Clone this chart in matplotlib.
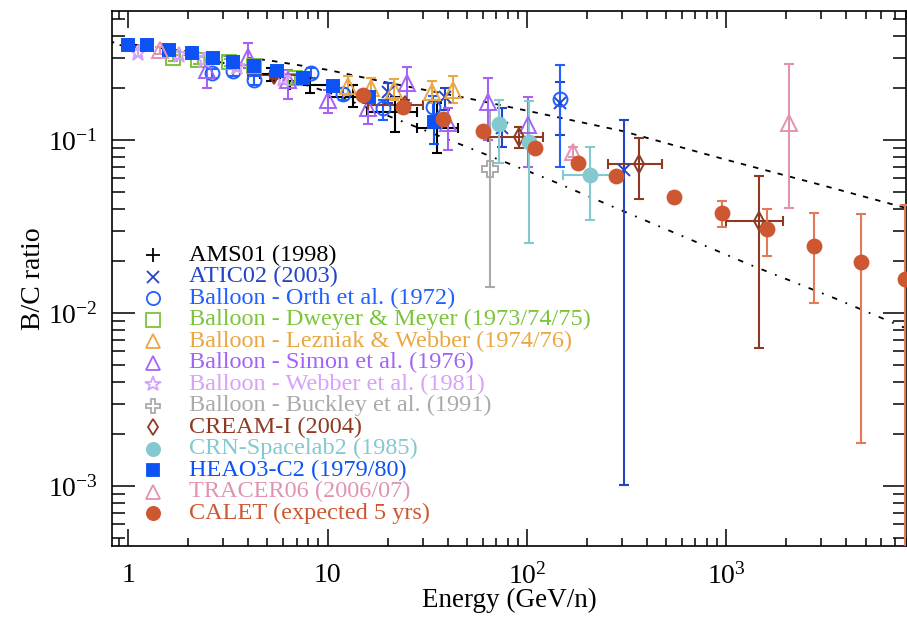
import numpy as np
import matplotlib
matplotlib.use('Agg')
import matplotlib.pyplot as plt
from matplotlib.ticker import NullFormatter, LogLocator

plt.rcParams['font.family'] = ['Liberation Serif', 'DejaVu Serif']
plt.rcParams['mathtext.fontset'] = 'custom'
plt.rcParams['mathtext.rm'] = 'Liberation Serif'
plt.rcParams['mathtext.it'] = 'Liberation Serif:italic'

# --- model curves (propagation predictions) ---
model_hi_E = [0.8, 1, 2, 5, 10, 20, 50, 100, 300, 1000, 3000, 9000]
model_hi_bc = [0.37, 0.36, 0.325, 0.29, 0.255, 0.215, 0.175, 0.148, 0.113, 0.077, 0.055, 0.039]
model_lo_E = [0.8, 1, 2, 5, 10, 23, 41, 130, 302, 1320, 3430, 9000]
model_lo_bc = [0.36, 0.35, 0.31, 0.245, 0.19, 0.13, 0.10, 0.059, 0.039, 0.019, 0.0123, 0.0077]

# --- measurements: energy, value, lower/upper bound, energy bin ---
ams_E = [5.2, 8.2, 13.4, 21.9, 35.6]
ams_bc = [0.24, 0.208, 0.177, 0.145, 0.118]
ams_lo = [0.22, 0.187, 0.155, 0.112, 0.084]
ams_hi = [0.26, 0.228, 0.208, 0.177, 0.163]
ams_Elo = [4.6, 6.5, 10, 15.8, 28]
ams_Ehi = [5.8, 10, 15, 28, 45]

atic_E = [20, 39, 75, 147, 308]
atic_bc = [0.19, 0.177, 0.118, 0.164, 0.067]
atic_lo = [0.165, 0.15, 0.091, 0.107, 0.00101]
atic_hi = [0.215, 0.2, 0.153, 0.216, 0.13]

orth_E = [2.62, 3.35, 4.27, 8.3, 12.0, 18.9, 34, 147]
orth_bc = [0.244, 0.25, 0.222, 0.244, 0.184, 0.153, 0.155, 0.173]
orth_lo = [0.23, 0.235, 0.208, 0.228, 0.17, 0.131, 0.125, 0.0698]
orth_hi = [0.258, 0.265, 0.236, 0.26, 0.2, 0.17, 0.18, 0.272]

dwy_E = [1.67, 2.23, 3.19, 4.26, 6.9]
dwy_bc = [0.298, 0.29, 0.282, 0.268, 0.228]
dwy_lo = [0.285, 0.277, 0.269, 0.255, 0.215]
dwy_hi = [0.311, 0.303, 0.295, 0.281, 0.241]

lez_E = [12.6, 16.6, 21.5, 33.6, 42.5]
lez_bc = [0.205, 0.2, 0.196, 0.189, 0.195]
lez_lo = [0.18, 0.175, 0.17, 0.165, 0.165]
lez_hi = [0.235, 0.23, 0.225, 0.22, 0.235]

sim_E = [2.5, 3.97, 6.3, 10, 16, 25, 40, 64, 101]
sim_bc = [0.254, 0.302, 0.223, 0.17, 0.153, 0.213, 0.125, 0.166, 0.122]
sim_lo = [0.2, 0.26, 0.172, 0.143, 0.124, 0.165, 0.088, 0.1, 0.07]
sim_hi = [0.302, 0.364, 0.254, 0.195, 0.187, 0.264, 0.153, 0.23, 0.177]

web_E = [1.12, 1.8, 2.4, 3.5, 6.0]
web_bc = [0.32, 0.31, 0.29, 0.265, 0.225]
web_lo = [0.305, 0.295, 0.275, 0.25, 0.21]
web_hi = [0.335, 0.325, 0.305, 0.28, 0.24]

buck_E = [65.5]
buck_bc = [0.068]
buck_lo = [0.0141]
buck_hi = [0.15]

cream_E = [5.4, 24.6, 91.7, 366, 1463]
cream_bc = [0.238, 0.16, 0.104, 0.0726, 0.034]
cream_lo = [0.225, 0.15, 0.09, 0.0456, 0.00628]
cream_hi = [0.25, 0.17, 0.119, 0.103, 0.0619]
cream_Elo = [4.0, 16, 64, 254, 1000]
cream_Ehi = [7.3, 30, 120, 477, 1930]

crn_E = [72.6, 102, 208]
crn_bc = [0.124, 0.097, 0.063]
crn_lo = [0.074, 0.0254, 0.0345]
crn_hi = [0.17, 0.168, 0.091]
crn_Elo = [72.6, 102, 152]
crn_Ehi = [72.6, 102, 285]

heao_E = [1.0, 1.25, 1.6, 2.08, 2.65, 3.35, 4.26, 5.55, 7.5, 10.6, 16.2, 34.4]
heao_bc = [0.354, 0.354, 0.331, 0.319, 0.298, 0.282, 0.268, 0.251, 0.228, 0.205, 0.177, 0.127]
heao_lo = [0.345, 0.345, 0.322, 0.31, 0.289, 0.273, 0.259, 0.242, 0.219, 0.196, 0.167, 0.095]
heao_hi = [0.363, 0.363, 0.34, 0.328, 0.307, 0.291, 0.277, 0.26, 0.237, 0.214, 0.187, 0.17]

tracer_E = [1.45, 171, 2070]
tracer_bc = [0.33, 0.0852, 0.125]
tracer_lo = [0.315, 0.08, 0.0405]
tracer_hi = [0.345, 0.091, 0.275]

calet_E = [15, 24, 38.1, 60.5, 110, 181, 281, 548, 955, 1606, 2763, 4753, 7894]
calet_bc = [0.182, 0.155, 0.132, 0.113, 0.090, 0.0736, 0.062, 0.0469, 0.0379, 0.0306, 0.0244, 0.0197, 0.0157]
calet_lo = [0.179, 0.152, 0.129, 0.11, 0.087, 0.071, 0.059, 0.044, 0.0316, 0.0213, 0.0114, 0.00177, 0.0001]
calet_hi = [0.185, 0.158, 0.135, 0.116, 0.093, 0.076, 0.065, 0.05, 0.0446, 0.0399, 0.0379, 0.0374, 0.042]

xtick_vals = [1, 10, 100, 1000]
xtick_labels = ['1', '10', r'$10^{2}$', r'$10^{3}$']
ytick_vals = [1e-3, 1e-2, 1e-1]
ytick_labels = [r'$10^{-3}$', r'$10^{-2}$', r'$10^{-1}$']


def yerr(v, lo, hi):
    v = np.asarray(v)
    return [v - np.asarray(lo), np.asarray(hi) - v]


fig = plt.figure(figsize=(9.07, 6.18), dpi=100)
ax = fig.add_axes([0.1235, 0.1165, 0.8757, 0.8655])
ax.set_xscale('log')
ax.set_yscale('log')

ax.plot(model_hi_E, model_hi_bc, color='black', lw=1.3, ls=(0, (3, 4)), zorder=1)
ax.plot(model_lo_E, model_lo_bc, color='black', lw=1.3, ls=(0, (1, 5, 3, 5)), zorder=1)

# (label, E, bc, lo, hi, xerr-bounds, color, marker, size, filled)
series = [
    ('AMS01 (1998)', ams_E, ams_bc, ams_lo, ams_hi, (ams_Elo, ams_Ehi), 'black', '+', 11, True),
    ('ATIC02 (2003)', atic_E, atic_bc, atic_lo, atic_hi, None, '#2444c8', 'x', 9, True),
    ('Balloon - Orth et al. (1972)', orth_E, orth_bc, orth_lo, orth_hi, None, '#2060ff', 'o', 10, False),
    ('Balloon - Dweyer & Meyer (1973/74/75)', dwy_E, dwy_bc, dwy_lo, dwy_hi, None, '#7cc43c', 's', 10, False),
    ('Balloon - Lezniak & Webber (1974/76)', lez_E, lez_bc, lez_lo, lez_hi, None, '#eaa744', '^', 11, False),
    ('Balloon - Simon et al. (1976)', sim_E, sim_bc, sim_lo, sim_hi, None, '#a463f6', '^', 11, False),
    ('Balloon - Webber et al. (1981)', web_E, web_bc, web_lo, web_hi, None, '#d6a2fa', '*', 12, False),
    ('Balloon - Buckley et al. (1991)', buck_E, buck_bc, buck_lo, buck_hi, None, '#aaaaaa', 'P', 11, False),
    ('CREAM-I (2004)', cream_E, cream_bc, cream_lo, cream_hi, (cream_Elo, cream_Ehi), '#8e3a22', 'd', 9, False),
    ('CRN-Spacelab2 (1985)', crn_E, crn_bc, crn_lo, crn_hi, (crn_Elo, crn_Ehi), '#84c8d0', 'o', 10, True),
    ('HEAO3-C2 (1979/80)', heao_E, heao_bc, heao_lo, heao_hi, None, '#0c52f4', 's', 8.5, True),
    ('TRACER06 (2006/07)', tracer_E, tracer_bc, tracer_lo, tracer_hi, None, '#e293b2', '^', 11, False),
    ('CALET (expected 5 yrs)', calet_E, calet_bc, calet_lo, calet_hi, None, '#cd5731', 'o', 10, True),
]

for i, (label, E, bc, lo, hi, xb, col, mk, ms, filled) in enumerate(series):
    xerr = None
    if xb is not None:
        Ea = np.asarray(E)
        xerr = [Ea - np.asarray(xb[0]), np.asarray(xb[1]) - Ea]
    ecol = '#e27a5a' if label.startswith('CALET') else col
    ax.errorbar(E, bc, yerr=yerr(bc, lo, hi), xerr=xerr, fmt='none', ecolor=ecol,
                elinewidth=1.5, capsize=3.5, capthick=1.5, zorder=2 + i * 0.1)
    ax.plot(E, bc, ls='none', marker=mk, ms=ms, color=col,
            mfc=col if filled else 'none', mec=col, mew=1.4, zorder=3 + i * 0.1)

    # legend row
    ly = (546 - (255 + 21.5 * i)) / 535
    ax.plot([0.0516], [ly], transform=ax.transAxes, ls='none', marker=mk,
            ms=ms * 0.95, color=col, mfc=col if filled else 'none', mec=col,
            mew=1.3, clip_on=False, zorder=6)
    ax.text(0.097, ly, label, transform=ax.transAxes, color=col, fontsize=17.5,
            va='center', ha='left', zorder=6)

ax.set_xlim(0.83, 8000)
ax.set_ylim(4.5e-4, 0.557)

ax.set_xticks(xtick_vals, xtick_labels)
ax.set_yticks(ytick_vals, ytick_labels)
ax.xaxis.set_minor_locator(LogLocator(base=10, subs=np.arange(2, 10) * 1.0, numticks=20))
ax.yaxis.set_minor_locator(LogLocator(base=10, subs=np.arange(2, 10) * 1.0, numticks=20))
ax.xaxis.set_minor_formatter(NullFormatter())
ax.yaxis.set_minor_formatter(NullFormatter())

ax.tick_params(which='both', direction='in', top=True, right=True, width=1.1)
ax.tick_params(axis='x', which='major', length=12, pad=12, labelsize=20)
ax.tick_params(axis='x', which='minor', length=6)
ax.tick_params(axis='y', which='major', length=16.5, pad=10, labelsize=20)
ax.tick_params(axis='y', which='minor', length=9.5)
for s in ax.spines.values():
    s.set_linewidth(1.2)

ax.set_xlabel('Energy (GeV/n)', fontsize=19.5, labelpad=-1)
ax.set_ylabel('B/C ratio', fontsize=20)
ax.yaxis.set_label_coords(-0.083, 0.5)

fig.savefig('out.png', dpi=100)
